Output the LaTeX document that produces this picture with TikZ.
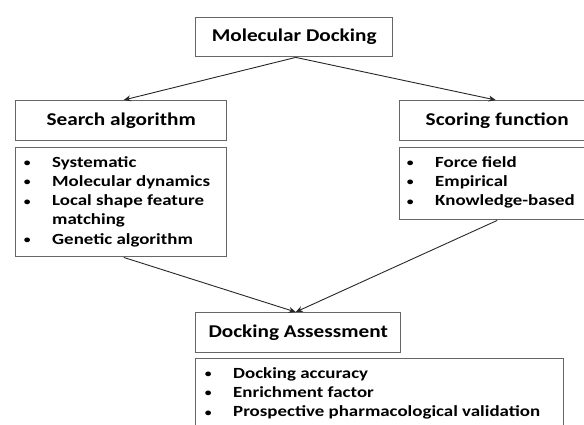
\documentclass[tikz,border=0pt]{standalone}
\usepackage{fontspec}
\setmainfont{Carlito}[FakeStretch=1.18]
\newfontfamily\lstfont{Carlito}[FakeStretch=1.22]
\usetikzlibrary{arrows.meta}
\newcommand\lstitem[1]{\makebox[0pt]{\raisebox{0.6pt}{\scalebox{0.72}{\textbullet}}}\hspace*{25pt}#1}
\begin{document}
\begin{tikzpicture}[x=1pt,y=-1pt,
  box/.style={draw=black!60, line width=1.4pt, inner sep=0pt, anchor=north west},
  ttl/.style={font=\bfseries\fontsize{18}{22}\selectfont},
  lst/.style={font=\lstfont\bfseries\fontsize{15.5}{19.3}\selectfont, inner sep=0pt, anchor=base west},
  arr/.style={-{Stealth[length=7pt,width=6pt]}, line width=0.9pt, draw=black!85}]
\useasboundingbox (0,0) rectangle (584,424);
\clip (0,0) rectangle (584,424);
% top
\node[box, ttl, minimum width=197pt, minimum height=39pt] (md) at (195,17) {Molecular Docking};
% left column
\node[box, ttl, minimum width=211pt, minimum height=40pt] (sa) at (15,100) {Search algorithm};
\node[box, minimum width=211pt, minimum height=109pt] (sl) at (15,147) {};
\node[lst] (slt) at (27,167) {\begin{tabular}[t]{@{}l@{}}
\lstitem{Systematic}\\
\lstitem{Molecular dynamics}\\
\lstitem{Local shape feature}\\
\hspace*{25pt}matching\\
\lstitem{Genetic algorithm}
\end{tabular}};
% right column
\node[box, ttl, minimum width=195pt, minimum height=40pt] (sf) at (399,100) {Scoring function};
\node[box, minimum width=195pt, minimum height=72pt] (fl) at (399,147) {};
\node[lst] (flt) at (410,167) {\begin{tabular}[t]{@{}l@{}}
\lstitem{Force field}\\
\lstitem{Empirical}\\
\lstitem{Knowledge-based}
\end{tabular}};
% bottom
\node[box, ttl, minimum width=205pt, minimum height=40pt] (da) at (195,312) {Docking Assessment};
\node[box, minimum width=368pt, minimum height=72pt] (dl) at (195,358) {};
\node[lst] (dlt) at (208,378) {\begin{tabular}[t]{@{}l@{}}
\lstitem{Docking accuracy}\\
\lstitem{Enrichment factor}\\
\lstitem{Prospective pharmacological validation}
\end{tabular}};
% connectors
\draw[arr] ([xshift=1.5pt]md.south) -- ([xshift=2.5pt]sa.north);
\draw[arr] ([xshift=1.5pt]md.south) -- ([xshift=-1.5pt]sf.north);
\draw[arr] ([xshift=2.5pt]sl.south) -- ([xshift=-2.5pt]da.north);
\draw[arr] (fl.south) -- ([xshift=-2.5pt]da.north);
\end{tikzpicture}
\end{document}
